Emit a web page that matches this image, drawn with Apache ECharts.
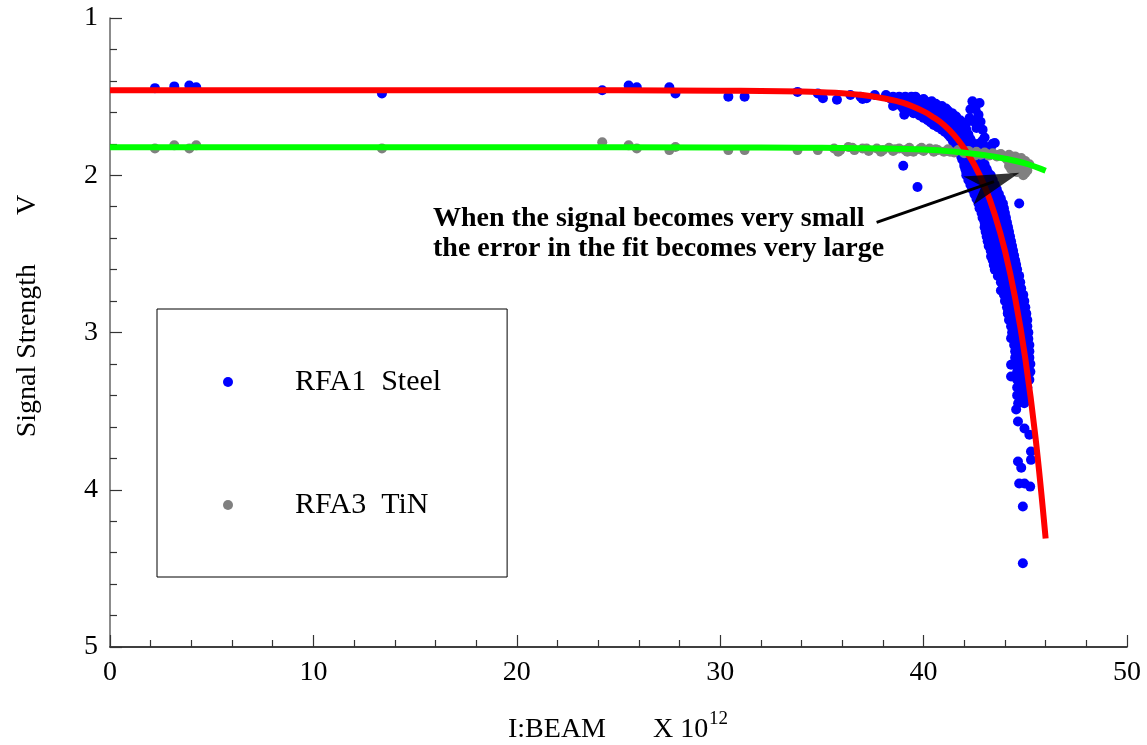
<!DOCTYPE html>
<html>
<head>
<meta charset="utf-8">
<script src="https://cdn.jsdelivr.net/npm/echarts@6/dist/echarts.min.js"></script>
<style>
html,body{margin:0;padding:0;background:#fff;}
#chart{width:1147px;height:745px;}
</style>
</head>
<body>
<div id="chart"></div>
<script>
// ---------------- data ----------------
const xTickValues = [0, 10, 20, 30, 40, 50];
const yTickValues = [1, 2, 3, 4, 5];

// RFA1 Steel: isolated points
const steelSparse = [
  [2.21,1.446],[3.16,1.435],[3.9,1.43],[4.24,1.44],[13.37,1.48],[24.2,1.46],[25.5,1.43],
  [25.9,1.44],[27.5,1.44],[27.8,1.48],[30.4,1.50],[31.2,1.50],[33.8,1.47],[34.8,1.48],
  [35.05,1.51],[35.74,1.52],[36.4,1.49],[36.9,1.50],[37.0,1.515],[37.2,1.51],[37.6,1.49],
  [38.15,1.49],[38.5,1.56],[39.05,1.615],[39.1,1.51],[39.8,1.53],[40.6,1.55],[41.1,1.58],
  [41.6,1.626],[42.1,1.67],
  [39.0,1.94],[39.7,2.075],[44.7,2.18],[43.32,2.517],[43.8,2.733],[44.14,2.877],[44.3,3.036],
  [44.3,3.205],[44.3,3.28],
  [44.55,3.49],[44.64,3.566],[44.96,3.61],[45.2,3.65],[45.28,3.757],[44.64,3.82],[44.8,3.86],
  [45.28,3.81],[44.7,3.96],[44.96,3.96],[45.24,3.98],[44.88,4.107],[44.88,4.467],
  [42.4,1.53],[42.75,1.54],[42.3,1.58],[42.7,1.615],[42.26,1.636],[42.9,1.71],[43.0,1.76],
  [43.4,1.80],[42.5,1.66],[42.6,1.70],[42.8,1.66],[42.55,1.58],[43.1,1.82],[42.9,1.78],
  [43.5,1.795],[43.3,1.83],[43.0,1.93],[42.8,1.90]
];
// RFA1 Steel: dense band, each row = [y, x, x, ...]
const steelBand = [
  [1.50, 38.2,38.5,38.8,39.1,39.4,39.6],
  [1.515, 38.4,38.7,39.0,39.3,39.7,40.0],
  [1.53, 38.6,38.9,39.2,39.5,39.8,40.1,40.4],
  [1.545, 38.7,39.1,39.4,39.7,40.0,40.3,40.6],
  [1.56, 38.9,39.2,39.5,39.8,40.1,40.4,40.7,40.9],
  [1.575, 39.0,39.35,39.65,39.95,40.25,40.55,40.85,41.1],
  [1.59, 39.2,39.5,39.8,40.1,40.4,40.7,41.0,41.2],
  [1.605, 39.5,39.95,40.25,40.55,40.85,41.15,41.4],
  [1.62, 39.8,40.1,40.4,40.7,41.0,41.3,41.5],
  [1.635, 40.0,40.35,40.65,40.95,41.25,41.6],
  [1.65, 40.2,40.5,40.8,41.1,41.4,41.8],
  [1.665, 40.35,40.65,40.95,41.25,41.55,41.9],
  [1.68, 40.5,40.8,41.1,41.4,41.7,42.0],
  [1.695, 40.7,41.0,41.35,41.65,41.95],
  [1.71, 40.9,41.2,41.5,41.8,42.1],
  [1.725, 41.05,41.35,41.65,42.0],
  [1.74, 41.2,41.5,41.8,42.2],
  [1.755, 41.3,41.6,41.9,42.2],
  [1.77, 41.4,41.7,42.0,42.3],
  [1.785, 41.45,41.75,42.05,42.35],
  [1.80, 41.5,41.8,42.1,42.4,42.7],
  [1.82, 41.65,41.95,42.25,42.55,42.85],
  [1.84, 41.7,42.0,42.3,42.6,43.0],
  [1.86, 41.8,42.1,42.4,42.7,43.1],
  [1.88, 41.85,42.15,42.45,42.75],
  [1.90, 41.9,42.2,42.5,42.8],
  [1.92, 42.0,42.3,42.6,42.9],
  [1.94, 42.0,42.35,42.65,42.95],
  [1.96, 42.05,42.4,42.7,43.1],
  [1.98, 42.1,42.45,42.8,43.15],
  [2.00, 42.1,42.4,42.7,43.0,43.3],
  [2.03, 42.2,42.5,42.8,43.1,43.4],
  [2.06, 42.3,42.6,42.9,43.2,43.5],
  [2.09, 42.4,42.7,43.0,43.3,43.6],
  [2.12, 42.5,42.8,43.1,43.4,43.7],
  [2.15, 42.6,42.9,43.2,43.5,43.8],
  [2.18, 42.7,43.0,43.3,43.6,43.9],
  [2.21, 42.75,43.05,43.35,43.65,43.95],
  [2.24, 42.85,43.15,43.45,43.75,44.0],
  [2.27, 42.9,43.2,43.5,43.8,44.05],
  [2.30, 43.0,43.3,43.55,43.85,44.1],
  [2.33, 43.0,43.3,43.6,43.9,44.15],
  [2.36, 43.05,43.35,43.65,43.95,44.2],
  [2.39, 43.1,43.4,43.7,44.0,44.25],
  [2.42, 43.15,43.45,43.75,44.05,44.3],
  [2.45, 43.2,43.5,43.8,44.1,44.35],
  [2.48, 43.3,43.55,43.85,44.15,44.4],
  [2.51, 43.35,43.6,43.9,44.2,44.45],
  [2.54, 43.4,43.7,43.95,44.25,44.5],
  [2.57, 43.45,43.75,44.0,44.3,44.55],
  [2.60, 43.5,43.8,44.05,44.35,44.6],
  [2.64, 43.65,43.9,44.15,44.45,44.7],
  [2.68, 43.8,44.0,44.25,44.5,44.75],
  [2.72, 43.9,44.15,44.4,44.6,44.8],
  [2.76, 43.95,44.2,44.45,44.7,44.9],
  [2.80, 44.0,44.25,44.5,44.75,44.95],
  [2.84, 44.1,44.35,44.6,44.85,45.0],
  [2.88, 44.15,44.4,44.65,44.9,45.05],
  [2.92, 44.2,44.45,44.7,44.95,45.1],
  [2.96, 44.3,44.55,44.8,45.1],
  [3.00, 44.35,44.6,44.85,45.15],
  [3.04, 44.4,44.65,44.9,45.15],
  [3.08, 44.45,44.7,44.95,45.2],
  [3.12, 44.5,44.75,45.0,45.2],
  [3.16, 44.5,44.75,45.0,45.2],
  [3.20, 44.55,44.8,45.05,45.25],
  [3.25, 44.6,44.85,45.1,45.25],
  [3.30, 44.6,44.85,45.1,45.2],
  [3.35, 44.6,44.85,45.1],
  [3.40, 44.6,44.85,45.05],
  [3.45, 44.65,44.95]
];

// RFA3 TiN
const tinPoints = [
  [2.21,1.83],[3.16,1.81],[3.9,1.83],[4.24,1.81],[13.37,1.83],[24.2,1.79],[25.5,1.81],
  [25.9,1.83],[27.5,1.84],[27.8,1.82],[30.4,1.84],[31.2,1.84],[33.8,1.84],[34.8,1.84],
  [35.6,1.83],[35.9,1.84],[36.3,1.82],[36.6,1.84],[37.0,1.83],[37.3,1.845],[37.7,1.83],
  [38.0,1.84],[38.3,1.825],[38.5,1.845],[38.8,1.83],[39.1,1.84],[39.3,1.825],[39.5,1.85],
  [39.8,1.835],[40.0,1.845],[40.3,1.83],[40.5,1.85],[40.7,1.84],[41.0,1.85],[41.2,1.835],
  [41.5,1.855],[41.7,1.84],[42.0,1.86],[42.2,1.845],[42.4,1.865],[42.6,1.85],[42.8,1.87],
  [43.0,1.855],[43.2,1.875],[43.4,1.86],[43.6,1.88],[43.8,1.865],[44.0,1.885],[44.2,1.87],
  [44.3,1.90],[44.5,1.88],[44.6,1.91],[44.8,1.89],[44.9,1.93],[45.0,1.91],[45.1,1.95],
  [44.8,1.96],[44.5,1.965],[44.3,1.96],[45.0,1.985],[45.1,1.97],[44.9,2.0],[44.2,1.94],
  [35.8,1.85],[36.5,1.825],[37.2,1.83],[37.9,1.85],[38.6,1.835],[39.2,1.85],[39.9,1.825],
  [40.6,1.835],[41.3,1.85],[41.9,1.845],[42.5,1.875],[43.1,1.865],[43.7,1.87],[44.1,1.90],
  [44.4,1.92],[44.7,1.935],[45.2,1.93],[44.6,1.98],[44.7,1.95]
];

// fitted curves
const steelFitX = [0,5,10,15,20,25,30,32,34,35,36,37,38,39,40,40.5,41,41.5,42,42.5,43,43.5,44,44.5,45,45.5,46];
const steelFitY = [1.46,1.46,1.46,1.46,1.46,1.46,1.462,1.464,1.468,1.472,1.478,1.49,1.51,1.54,1.594,1.633,1.68,1.745,1.83,1.935,2.07,2.25,2.48,2.78,3.165,3.665,4.31];
const tinFitX = [0,10,20,30,34,36,38,40,41,42,43,44,45,46];
const tinFitY = [1.822,1.822,1.822,1.823,1.825,1.827,1.83,1.837,1.845,1.857,1.872,1.895,1.925,1.972];

// annotation arrow (data coordinates): tail -> head centre
const arrowTail = [37.69, 2.30];
const arrowHead = [43.46, 2.041];

// ---------------- build ----------------
const steelPoints = steelSparse.slice();
steelBand.forEach(function (row) {
  for (let i = 1; i < row.length; i++) steelPoints.push([row[i], row[0]]);
});
const steelFit = steelFitX.map(function (x, i) { return [x, steelFitY[i]]; });
const tinFit = tinFitX.map(function (x, i) { return [x, tinFitY[i]]; });

const SERIF = '"Liberation Serif","Times New Roman",serif';
const chart = echarts.init(document.getElementById('chart'), null, {renderer: 'canvas'});

chart.setOption({
  animation: false,
  backgroundColor: '#ffffff',
  grid: {left: 110, right: 20, top: 18, bottom: 98, containLabel: false, outerBoundsMode: 'none'},
  xAxis: {
    type: 'value', min: 0, max: 50, interval: 10,
    axisLine: {show: true, onZero: false, lineStyle: {color: '#000', width: 1.5}},
    axisTick: {show: true, inside: true, length: 12, lineStyle: {color: '#333', width: 1.2}},
    minorTick: {show: true, splitNumber: 5, length: 7, lineStyle: {color: '#333', width: 1.2}},
    splitLine: {show: false},
    axisLabel: {margin: 12, color: '#000', fontFamily: SERIF, fontSize: 28,
      formatter: function (v) { return xTickValues.indexOf(v) >= 0 ? String(v) : ''; }}
  },
  yAxis: {
    type: 'value', min: 1, max: 5, interval: 1, inverse: true,
    axisLine: {show: true, onZero: false, lineStyle: {color: '#666', width: 1.5}},
    axisTick: {show: true, inside: true, length: 12, lineStyle: {color: '#333', width: 1.2}},
    minorTick: {show: true, splitNumber: 5, length: 7, lineStyle: {color: '#333', width: 1.2}},
    splitLine: {show: false},
    axisLabel: {margin: 12, color: '#000', fontFamily: SERIF, fontSize: 28,
      formatter: function (v) { return yTickValues.indexOf(v) >= 0 ? String(v) : ''; }}
  },
  legend: {
    data: ['RFA1  Steel', 'RFA3  TiN'],
    orient: 'vertical', left: 157, top: 309,
    padding: [58, 66, 57, 66],
    itemWidth: 124, itemHeight: 10, itemGap: 93,
    icon: 'circle',
    selectedMode: false,
    borderColor: '#000', borderWidth: 1, borderRadius: 0,
    backgroundColor: '#fff',
    textStyle: {fontFamily: SERIF, fontSize: 30, lineHeight: 30, color: '#000'}
  },
  series: [
    {name: 'RFA1  Steel', type: 'scatter', data: steelPoints, symbol: 'circle', symbolSize: 10,
     itemStyle: {color: '#0000ff', opacity: 1}, silent: true, z: 2},
    {name: 'RFA3  TiN', type: 'scatter', data: tinPoints, symbol: 'circle', symbolSize: 10,
     itemStyle: {color: '#808080', opacity: 1}, silent: true, z: 3},
    {name: 'fit1', type: 'line', data: steelFit, showSymbol: false, smooth: 0.4,
     lineStyle: {color: '#ff0000', width: 6}, silent: true, z: 4},
    {name: 'fit3', type: 'line', data: tinFit, showSymbol: false, smooth: 0.4,
     lineStyle: {color: '#00ff00', width: 6}, silent: true, z: 5},
    {name: 'arrowShaft', type: 'line', data: [arrowTail, arrowHead], showSymbol: false,
     lineStyle: {color: '#000', width: 3}, silent: true, z: 6},
    {name: 'arrowHead', type: 'scatter', data: [arrowHead],
     symbol: 'path://M15,0 L30,54 L15,40 L0,54 Z', symbolSize: [30, 54], symbolRotate: -70.7,
     itemStyle: {color: '#000'}, silent: true, z: 7}
  ],
  graphic: [
    {type: 'text', x: 28, y: 316, rotation: Math.PI / 2,
     style: {text: 'Signal Strength       V', font: '28px ' + SERIF, fill: '#000', align: 'center', verticalAlign: 'middle'}},
    {type: 'text', x: 508, y: 730,
     style: {text: 'I:BEAM', font: '28px ' + SERIF, fill: '#000', align: 'left', verticalAlign: 'middle'}},
    {type: 'text', x: 653, y: 730,
     style: {text: 'X 10', font: '28px ' + SERIF, fill: '#000', align: 'left', verticalAlign: 'middle'}},
    {type: 'text', x: 709, y: 719,
     style: {text: '12', font: '19px ' + SERIF, fill: '#000', align: 'left', verticalAlign: 'middle'}},
    {type: 'text', x: 433, y: 204,
     style: {text: 'When the signal becomes very small\nthe error in the fit becomes very large',
       font: 'bold 28px ' + SERIF, lineHeight: 30, fill: '#000', align: 'left', verticalAlign: 'top'}}
  ]
});
</script>
</body>
</html>
